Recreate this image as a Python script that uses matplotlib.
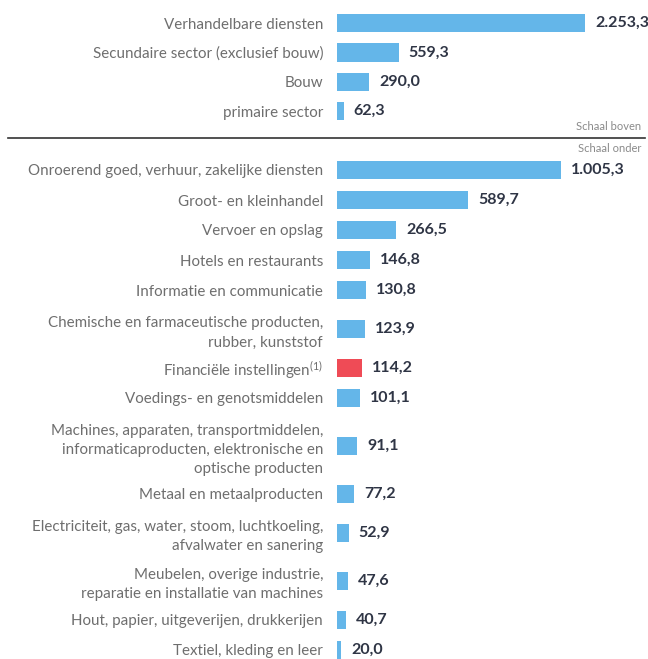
import matplotlib.pyplot as plt
from matplotlib.transforms import offset_copy

plt.rcParams['font.family'] = ['Lato', 'DejaVu Sans']
plt.rcParams['mathtext.fontset'] = 'custom'
plt.rcParams['mathtext.rm'] = 'Lato'
plt.rcParams['mathtext.default'] = 'regular'

# Schaal boven
top_labels = ["Verhandelbare diensten", "Secundaire sector (exclusief bouw)", "Bouw", "primaire sector"]
top_values = [2253.3, 559.3, 290.0, 62.3]

# Schaal onder
bottom_labels = [
    "Onroerend goed, verhuur, zakelijke diensten",
    "Groot- en kleinhandel",
    "Vervoer en opslag",
    "Hotels en restaurants",
    "Informatie en communicatie",
    "Chemische en farmaceutische producten,\nrubber, kunststof",
    "Financiële instellingen$^{(1)}$",
    "Voedings- en genotsmiddelen",
    "Machines, apparaten, transportmiddelen,\ninformaticaproducten, elektronische en\noptische producten",
    "Metaal en metaalproducten",
    "Electriciteit, gas, water, stoom, luchtkoeling,\nafvalwater en sanering",
    "Meubelen, overige industrie,\nreparatie en installatie van machines",
    "Hout, papier, uitgeverijen, drukkerijen",
    "Textiel, kleding en leer",
]
bottom_values = [1005.3, 589.7, 266.5, 146.8, 130.8, 123.9, 114.2, 101.1, 91.1, 77.2, 52.9, 47.6, 40.7, 20.0]
highlight = "Financiële instellingen$^{(1)}$"

BLUE = "#64b6e9"
RED = "#ef4b56"
LABEL_C = "#6e6e6e"
VALUE_C = "#2f3545"


def fmt_nl(v):
    s = f"{v:,.1f}"
    return s.replace(",", "X").replace(".", ",").replace("X", ".")


# row positions: multi-line labels get extra room
def positions(labels, extra=0.3):
    pos = [0.0]
    for a, b in zip(labels[:-1], labels[1:]):
        na = a.count("\n")
        nb = b.count("\n")
        pos.append(pos[-1] + 1 + extra * na + extra * nb)
    return pos


W, H = 648, 659
fig = plt.figure(figsize=(W / 100, H / 100), dpi=100)


def px_axes(x0, y0, x1, y1):
    return fig.add_axes([x0 / W, 1 - y1 / H, (x1 - x0) / W, (y1 - y0) / H])


def draw(ax, labels, values, pos, xmax, ylim, bar_h):
    colors = [RED if l == highlight else BLUE for l in labels]
    ax.barh(pos, values, height=bar_h, color=colors, align="center")
    ax.set_xlim(0, xmax)
    ax.set_ylim(*ylim)
    ax.set_yticks(pos, labels)
    ax.tick_params(axis="y", length=0, pad=10, labelsize=10.9, labelcolor=LABEL_C)
    for t in ax.get_yticklabels():
        t.set_multialignment("right")
        t.set_linespacing(1.45)
    ax.set_xticks([])
    for s in ax.spines.values():
        s.set_visible(False)
    for p, v in zip(pos, values):
        tr = offset_copy(ax.transData, fig=fig, x=10, y=0, units="dots")
        ax.text(v, p, fmt_nl(v), transform=tr, ha="left", va="center",
                fontsize=11.5, fontweight="bold", color=VALUE_C)


ax1 = px_axes(337, 8, 648, 126)
draw(ax1, top_labels, top_values, positions(top_labels), 2826, (3.5, -0.51), 0.62)

ax2 = px_axes(337, 155, 648, 659)
draw(ax2, bottom_labels, bottom_values, positions(bottom_labels), 1396, (16.3, -0.5), 0.63)

fig.add_artist(plt.Line2D([8 / W, 645 / W], [1 - 138 / H, 1 - 138 / H], color="#333333", lw=1.2))
fig.text(641 / W, 1 - 127 / H, "Schaal boven", ha="right", va="center", fontsize=8, color="#8a8a8a")
fig.text(641 / W, 1 - 149 / H, "Schaal onder", ha="right", va="center", fontsize=8, color="#8a8a8a")

fig.savefig("out.png", dpi=100)
